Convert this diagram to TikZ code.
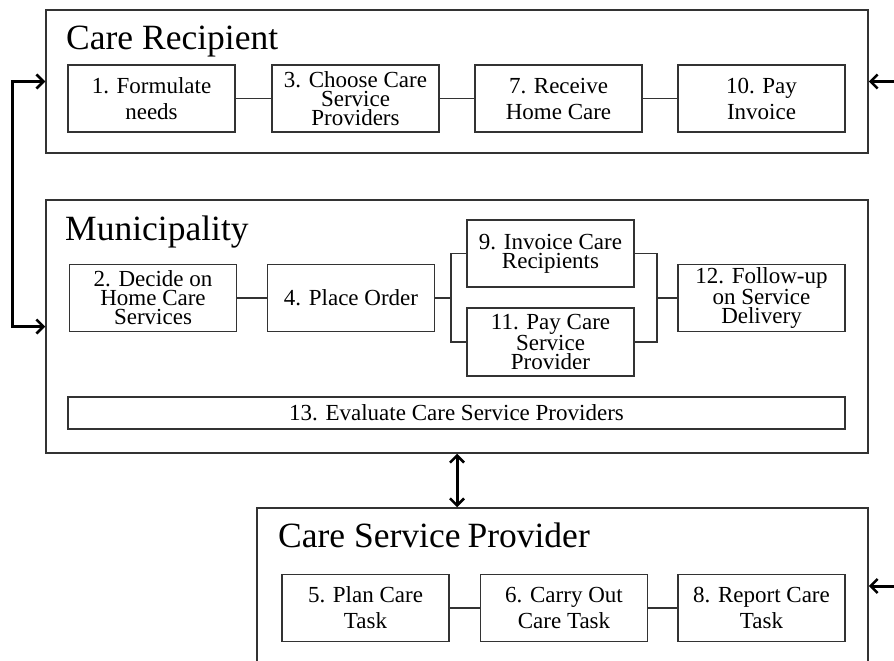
\documentclass[tikz,border=0pt]{standalone}
\usepackage{fontspec}
\setmainfont{Liberation Serif}
\usetikzlibrary{arrows.meta}
\definecolor{lineg}{HTML}{333333}
\tikzset{
  outer/.style={draw=lineg, line width=1.5pt, inner sep=0pt},
  task/.style={draw=lineg, line width=1.5pt, inner sep=0pt, minimum width=167pt,
    minimum height=67pt, align=center, font=\fontsize{23}{26}\selectfont},
  tight/.style={font=\fontsize{23}{19}\selectfont},
  title/.style={anchor=base west, inner sep=0pt, font=\fontsize{35.5}{40}\selectfont},
  link/.style={draw=lineg, line width=1.3pt},
  barb/.tip={Straight Barb[length=7pt,width=14pt,line width=2.6pt]},
  bigarrow/.style={line width=3pt, black, arrows={-barb}},
  bigarrows/.style={line width=3pt, black, arrows={barb-barb}}
}
\begin{document}
\begin{tikzpicture}[x=1pt,y=-1pt]
\useasboundingbox (0,0) rectangle (894,661);
\clip (0,0) rectangle (894,661);
\fill[white] (0,0) rectangle (894,661);

% outer lanes
\node[outer, minimum width=822pt, minimum height=143pt] (cr) at (457,81.5) {};
\node[outer, minimum width=822pt, minimum height=253pt] (mu) at (457,326.5) {};
\node[outer, minimum width=611pt, minimum height=200pt] (csp) at (562.5,608) {};

% titles
\node[title] (tcr) at (66,50) {Care Recipient};
\node[title] (tmu) at (65,240) {Municipality};
\node[title] (tcsp) at (278,547) {Care Service\hspace{7pt}Provider};

% Care Recipient tasks
\node[task] (b1) at (151.5,98.5) {1. Formulate\\needs};
\node[task, tight] (b3) at (355.5,98.5) {3. Choose Care\\Service\\Providers};
\node[task] (b7) at (558.5,98.5) {7. Receive\\Home Care};
\node[task] (b10) at (761.5,98.5) {10. Pay\\Invoice};
\draw[link] (b1) -- (b3);
\draw[link] (b3) -- (b7);
\draw[link] (b7) -- (b10);

% Municipality tasks
\node[task, tight] (b2) at (153,298) {2. Decide on\\Home Care\\Services};
\node[task] (b4) at (351,298) {4. Place Order};
\node[task, tight] (b9) at (550.5,253.5) {9. Invoice Care\\Recipients};
\node[task, tight, minimum height=68pt] (b11) at (550.5,342) {11. Pay Care\\Service\\Provider};
\node[task, tight] (b12) at (761.5,298) {12. Follow-up\\on Service\\Delivery};
\node[task, minimum width=777pt, minimum height=32pt] (b13) at (456.5,413) {13. Evaluate Care Service Providers};
\draw[link] (b2) -- (b4);
\coordinate (f1) at (451,298);
\coordinate (f2) at (657,298);
\draw[link] (b4.east) -- (f1);
\draw[link] (b9.west) -| (f1) |- (b11.west);
\draw[link] (b9.east) -| (f2) |- (b11.east);
\draw[link] (f2) -- (b12.west);

% Care Service Provider tasks
\node[task] (b5) at (365.5,608) {5. Plan Care\\Task};
\node[task] (b6) at (564,608) {6. Carry Out\\Care Task};
\node[task] (b8) at (761.5,608) {8. Report Care\\Task};
\draw[link] (b5) -- (b6);
\draw[link] (b6) -- (b8);

% arrows between lanes
\draw[bigarrows] (cr.west) -- ++(-33,0) |- (mu.west);
\draw[bigarrows] (mu.south) -- (mu.south |- csp.north);
\coordinate (rt) at (896,81.5);
\coordinate (rb) at (896,586);
\draw[bigarrow] (rt) -- (cr.east);
\draw[bigarrow] (rb) -- (rb -| csp.east);
\end{tikzpicture}
\end{document}
